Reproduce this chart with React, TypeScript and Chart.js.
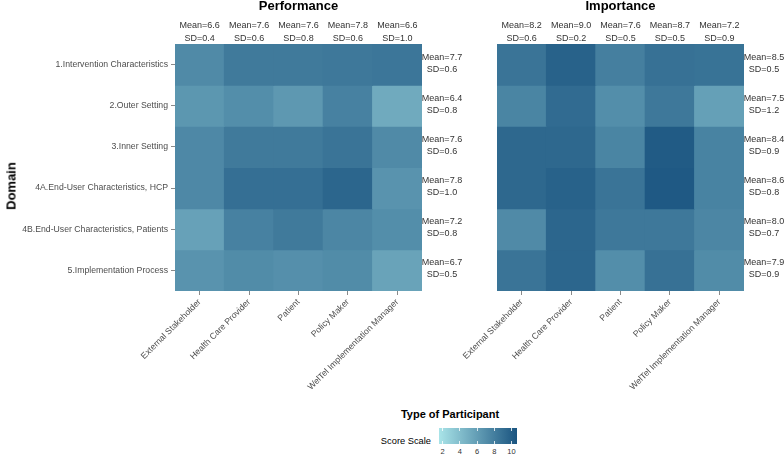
import React, { useEffect, useRef } from 'react';
import { Chart, registerables } from 'chart.js';

Chart.register(...registerables);

const FONT = "'Liberation Sans', Arial, Helvetica, sans-serif";

const domains = [
  '1.Intervention Characteristics',
  '2.Outer Setting',
  '3.Inner Setting',
  '4A.End-User Characteristics, HCP',
  '4B.End-User Characteristics, Patients',
  '5.Implementation Process',
];

const participants = [
  'External Stakeholder',
  'Health Care Provider',
  'Patient',
  'Policy Maker',
  'WelTel Implementation Manager',
];

// Performance cell scores (rows = domains, columns = participants)
const performanceValues = [
  [7.0, 7.9, 7.9, 8.0, 8.1],
  [6.3, 6.8, 6.2, 7.5, 5.2],
  [7.1, 7.9, 7.9, 8.2, 7.0],
  [7.1, 8.5, 8.5, 9.0, 6.5],
  [5.7, 7.5, 7.9, 7.2, 6.8],
  [6.5, 6.9, 6.7, 6.9, 5.6],
];
const perfColMean = [6.6, 7.6, 7.6, 7.8, 6.6];
const perfColSD = [0.4, 0.6, 0.8, 0.6, 1.0];
const perfRowMean = [7.7, 6.4, 7.6, 7.8, 7.2, 6.7];
const perfRowSD = [0.6, 0.8, 0.6, 1.0, 0.8, 0.5];

// Importance cell scores
const importanceValues = [
  [8.2, 9.2, 7.6, 8.4, 8.3],
  [7.3, 8.7, 6.8, 8.0, 5.8],
  [8.9, 8.9, 7.3, 9.6, 7.4],
  [8.9, 9.2, 8.2, 9.7, 7.4],
  [7.0, 9.0, 8.0, 8.0, 7.2],
  [8.2, 9.0, 6.8, 8.4, 6.9],
];
const impColMean = [8.2, 9.0, 7.6, 8.7, 7.2];
const impColSD = [0.6, 0.2, 0.5, 0.5, 0.9];
const impRowMean = [8.5, 7.5, 8.4, 8.6, 8.0, 7.9];
const impRowSD = [0.5, 1.2, 0.9, 0.8, 0.7, 0.9];

const legendTicks = [2, 4, 6, 8, 10];
const SCALE_MIN = 2;
const SCALE_MAX = 10;

const LOW = [169, 228, 232];
const HIGH = [26, 84, 128];

function fillFor(v: number): string {
  let t = (v - SCALE_MIN) / (SCALE_MAX - SCALE_MIN);
  t = Math.max(0, Math.min(1, t));
  const c = LOW.map((l, i) => Math.round(l + (HIGH[i] - l) * t));
  return `rgb(${c[0]},${c[1]},${c[2]})`;
}

const annotPlugin = {
  id: 'annot',
  afterDraw(chart: any, _args: any, opts: any) {
    const { ctx, chartArea, scales } = chart;
    ctx.save();
    ctx.textAlign = 'center';
    ctx.textBaseline = 'middle';
    ctx.fillStyle = '#000';
    ctx.font = `bold 13px ${FONT}`;
    ctx.fillText(opts.title, (chartArea.left + chartArea.right) / 2, 6);
    ctx.font = `9px ${FONT}`;
    ctx.fillStyle = '#333';
    (opts.colMean as number[]).forEach((m, i) => {
      const x = scales.x.getPixelForValue(i);
      ctx.fillText(`Mean=${m.toFixed(1)}`, x, 25.5);
      ctx.fillText(`SD=${(opts.colSD[i] as number).toFixed(1)}`, x, 38.5);
    });
    (opts.rowMean as number[]).forEach((m, r) => {
      const y = scales.y.getPixelForValue(r + 0.5);
      const x = chartArea.right + 20;
      ctx.fillText(`Mean=${m.toFixed(1)}`, x, y - 7.5);
      ctx.fillText(`SD=${(opts.rowSD[r] as number).toFixed(1)}`, x, y + 4.5);
    });
    ctx.restore();
  },
};

function makeConfig(p: {
  title: string;
  values: number[][];
  colMean: number[];
  colSD: number[];
  rowMean: number[];
  rowSD: number[];
  showY: boolean;
  padLeft: number;
  padRight: number;
  yWidth: number;
}): any {
  const datasets = p.values.map((row, r) => ({
    label: domains[r],
    data: row.map(() => [r, r + 1]),
    backgroundColor: row.map((v) => fillFor(v)),
    borderWidth: 0,
    grouped: false,
    barPercentage: 1,
    categoryPercentage: 1,
    inflateAmount: 0.5,
  }));
  return {
    type: 'bar',
    data: { labels: participants, datasets },
    plugins: [annotPlugin],
    options: {
      responsive: false,
      animation: false,
      events: [],
      layout: { padding: { top: 44, left: p.padLeft, right: p.padRight, bottom: 0 } },
      plugins: {
        legend: { display: false },
        tooltip: { enabled: false },
        title: { display: false },
        annot: {
          title: p.title,
          colMean: p.colMean,
          colSD: p.colSD,
          rowMean: p.rowMean,
          rowSD: p.rowSD,
        },
      },
      scales: {
        x: {
          type: 'category',
          offset: true,
          border: { display: false },
          grid: {
            offset: false,
            drawOnChartArea: false,
            drawTicks: true,
            tickLength: 4,
            color: '#8a8a8a',
            lineWidth: 1,
          },
          ticks: {
            autoSkip: false,
            maxRotation: 45,
            minRotation: 45,
            padding: 2,
            color: '#4d4d4d',
            font: { family: FONT, size: 8.7 },
          },
          afterFit: (scale: any) => {
            scale.height = 109;
          },
        },
        y: {
          type: 'linear',
          display: p.showY,
          min: 0,
          max: domains.length,
          reverse: true,
          border: { display: false },
          grid: {
            drawOnChartArea: false,
            drawTicks: true,
            tickLength: 4,
            color: '#8a8a8a',
            lineWidth: 1,
          },
          afterBuildTicks: (axis: any) => {
            axis.ticks = domains.map((_, i) => ({ value: i + 0.5 }));
          },
          ticks: {
            autoSkip: false,
            padding: 3,
            color: '#4d4d4d',
            font: { family: FONT, size: 8.7 },
            callback: (_v: any, i: number) => domains[i],
          },
          afterFit: (scale: any) => {
            scale.width = p.yWidth;
          },
        },
      },
    },
  };
}

export default function App() {
  const perfRef = useRef<HTMLCanvasElement>(null);
  const impRef = useRef<HTMLCanvasElement>(null);

  useEffect(() => {
    const c1 = new Chart(
      perfRef.current as HTMLCanvasElement,
      makeConfig({
        title: 'Performance',
        values: performanceValues,
        colMean: perfColMean,
        colSD: perfColSD,
        rowMean: perfRowMean,
        rowSD: perfRowSD,
        showY: true,
        padLeft: 0,
        padRight: 48,
        yWidth: 175,
      })
    );
    const c2 = new Chart(
      impRef.current as HTMLCanvasElement,
      makeConfig({
        title: 'Importance',
        values: importanceValues,
        colMean: impColMean,
        colSD: impColSD,
        rowMean: impRowMean,
        rowSD: impRowSD,
        showY: false,
        padLeft: 77,
        padRight: 40,
        yWidth: 0,
      })
    );
    return () => {
      c1.destroy();
      c2.destroy();
    };
  }, []);

  const barLeft = 439;
  const barWidth = 78;
  const tickX = (v: number) => 442.5 + (v - SCALE_MIN) * 8.625;

  return (
    <div
      style={{
        position: 'absolute',
        left: 0,
        top: 0,
        width: 784,
        height: 455,
        background: '#fff',
        overflow: 'hidden',
        fontFamily: FONT,
      }}
    >
      <canvas
        ref={perfRef}
        width={470}
        height={400}
        style={{ position: 'absolute', left: 0, top: 0, width: 470, height: 400 }}
      />
      <canvas
        ref={impRef}
        width={364}
        height={400}
        style={{ position: 'absolute', left: 420, top: 0, width: 364, height: 400 }}
      />
      <div
        style={{
          position: 'absolute',
          left: 10.5,
          top: 186,
          transform: 'translate(-50%, -50%) rotate(-90deg)',
          fontWeight: 'bold',
          fontSize: 13,
          lineHeight: 1,
          whiteSpace: 'nowrap',
          color: '#000',
        }}
      >
        Domain
      </div>
      <div
        style={{
          position: 'absolute',
          left: 450,
          top: 414,
          transform: 'translate(-50%, -50%)',
          fontWeight: 'bold',
          fontSize: 11,
          lineHeight: 1,
          whiteSpace: 'nowrap',
          color: '#000',
        }}
      >
        Type of Participant
      </div>
      <div
        style={{
          position: 'absolute',
          right: 784 - 431,
          top: 442,
          transform: 'translateY(-50%)',
          fontSize: 9.3,
          lineHeight: 1,
          whiteSpace: 'nowrap',
          color: '#000',
        }}
      >
        Score Scale
      </div>
      <div
        style={{
          position: 'absolute',
          left: barLeft,
          top: 428,
          width: barWidth,
          height: 16,
          background: `linear-gradient(to right, ${fillFor(1.6)}, ${fillFor(10.6)})`,
        }}
      />
      {legendTicks.map((v) => (
        <React.Fragment key={v}>
          <div
            style={{
              position: 'absolute',
              left: tickX(v) - 0.5,
              top: 428,
              width: 1,
              height: 3,
              background: 'rgba(255,255,255,0.8)',
            }}
          />
          <div
            style={{
              position: 'absolute',
              left: tickX(v) - 0.5,
              top: 441,
              width: 1,
              height: 3,
              background: 'rgba(255,255,255,0.8)',
            }}
          />
          <div
            style={{
              position: 'absolute',
              left: tickX(v),
              top: 452,
              transform: 'translate(-50%, -50%)',
              fontSize: 7.5,
              lineHeight: 1,
              color: '#333',
              whiteSpace: 'nowrap',
            }}
          >
            {v}
          </div>
        </React.Fragment>
      ))}
    </div>
  );
}
